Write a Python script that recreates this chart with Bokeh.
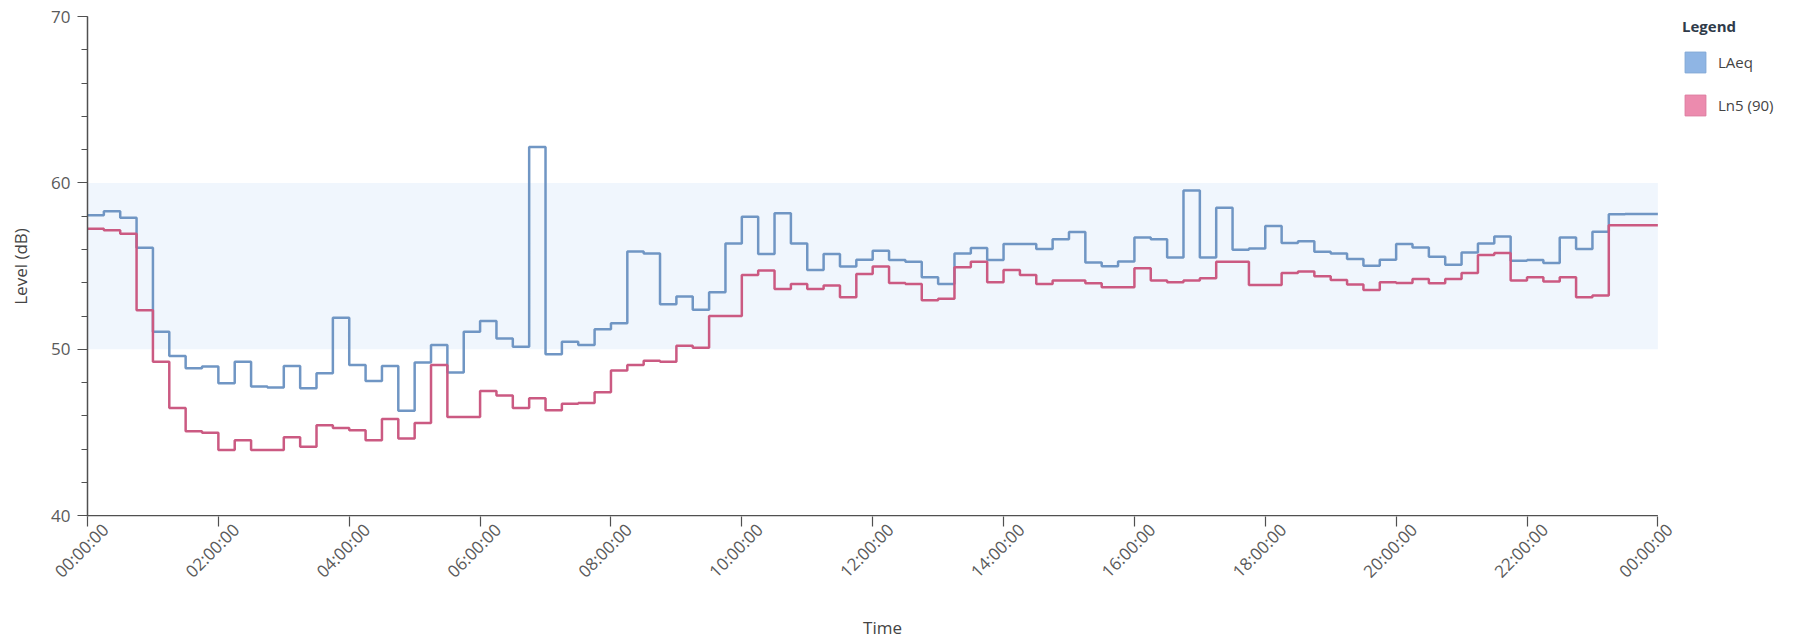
import math
from bokeh.plotting import figure
from bokeh.layouts import row
from bokeh.models import (Range1d, BoxAnnotation, Legend, LegendItem, FixedTicker,
                          SingleIntervalTicker, LinearAxis)
from bokeh.embed import file_html
from bokeh.resources import INLINE

# ---- data (15-minute intervals over one day) ----
laeq = [58.05, 58.3, 57.9, 56.1, 51.05, 49.6, 48.86, 48.96,
        47.96, 49.25, 47.76, 47.7, 49.0, 47.66, 48.56, 51.9,
        49.05, 48.1, 49.0, 46.3, 49.2, 50.25, 48.6, 51.05,
        51.7, 50.65, 50.15, 62.15, 49.7, 50.45, 50.25, 51.2,
        51.56, 55.88, 55.76, 52.7, 53.17, 52.38, 53.43, 56.36,
        57.97, 55.72, 58.17, 56.36, 54.77, 55.72, 54.97, 55.38,
        55.92, 55.36, 55.26, 54.33, 53.93, 55.76, 56.08, 55.36,
        56.32, 56.32, 56.02, 56.62, 57.05, 55.22, 54.99, 55.28,
        56.72, 56.62, 55.52, 59.54, 55.52, 58.51, 55.98, 56.06,
        57.41, 56.38, 56.5, 55.86, 55.76, 55.42, 55.02, 55.38,
        56.32, 56.12, 55.56, 55.08, 55.82, 56.36, 56.78, 55.32,
        55.36, 55.18, 56.72, 56.02, 57.07, 58.11, 58.13, 58.13]

ln5_90 = [57.25, 57.15, 56.95, 52.34, 49.25, 46.47, 45.07, 44.98,
          43.94, 44.54, 43.94, 43.94, 44.72, 44.14, 45.43, 45.27,
          45.13, 44.54, 45.81, 44.64, 45.57, 49.05, 45.93, 45.93,
          47.5, 47.22, 46.47, 47.06, 46.33, 46.73, 46.77, 47.42,
          48.72, 49.05, 49.31, 49.25, 50.21, 50.09, 52.0, 52.0,
          54.47, 54.73, 53.63, 53.93, 53.63, 53.83, 53.13, 54.53,
          54.97, 53.99, 53.93, 52.94, 53.03, 54.93, 55.26, 54.03,
          54.77, 54.47, 53.93, 54.13, 54.13, 53.97, 53.73, 53.73,
          54.87, 54.13, 54.03, 54.13, 54.27, 55.26, 55.26, 53.87,
          53.87, 54.59, 54.67, 54.39, 54.17, 53.89, 53.57, 54.03,
          53.99, 54.23, 53.97, 54.23, 54.59, 55.66, 55.78, 54.13,
          54.33, 54.07, 54.33, 53.13, 53.23, 57.45, 57.45, 57.45]

interval_hours = 0.25
tick_hours = [0, 2, 4, 6, 8, 10, 12, 14, 16, 18, 20, 22, 24]
tick_labels = ["00:00:00", "02:00:00", "04:00:00", "06:00:00", "08:00:00", "10:00:00",
               "12:00:00", "14:00:00", "16:00:00", "18:00:00", "20:00:00", "22:00:00", "00:00:00"]
y_min, y_max = 40, 70
band_low, band_high = 50, 60
series_names = ["LAeq", "Ln5 (90)"]

# step x positions: start of each interval plus end of day
hours = [i * interval_hours for i in range(len(laeq) + 1)]
laeq_ext = laeq + [laeq[-1]]
ln5_ext = ln5_90 + [ln5_90[-1]]
day_start, day_end = hours[0], hours[-1]

FONT = "Open Sans"
AXIS_COLOR = "#505050"
LABEL_SHIFT_H = 0.27   # tick labels sit slightly right of their ticks
FRAME_PAD_H = 0.3      # room right of the last hour so its label fits

p = figure(width=1677, height=641, output_backend="svg", toolbar_location=None,
           x_range=Range1d(day_start, day_end + FRAME_PAD_H),
           y_range=Range1d(y_min - 0.05, y_max), x_axis_location=None,
           min_border_left=87, min_border_right=0, min_border_top=16, min_border_bottom=123)
p.outline_line_color = None
p.xgrid.visible = False
p.ygrid.visible = False
p.background_fill_color = "white"
p.border_fill_color = "white"
p.extra_x_ranges = {"lab": Range1d(day_start - LABEL_SHIFT_H, day_end + FRAME_PAD_H - LABEL_SHIFT_H)}

band = BoxAnnotation(left=day_start, right=day_end, bottom=band_low, top=band_high,
                     fill_color="#F0F6FD", fill_alpha=1.0, line_color=None, level="underlay")
p.add_layout(band)

p.step(hours, laeq_ext, mode="after", line_color="#7096C4", line_width=2.5)
p.step(hours, ln5_ext, mode="after", line_color="#CB5A82", line_width=2.5)

# x axis line, spanning exactly the day
p.segment(x0=[day_start], y0=[y_min], x1=[day_end], y1=[y_min],
          line_color=AXIS_COLOR, line_width=1.5)

# x axis: major ticks invisible (they carry the shifted labels), minor ticks mark the hours
tick_marks = [h - LABEL_SHIFT_H for h in tick_hours]
xl = LinearAxis(x_range_name="lab", ticker=FixedTicker(ticks=tick_hours, minor_ticks=tick_marks))
xl.major_label_overrides = dict(zip(tick_hours, tick_labels))
xl.major_label_orientation = math.pi / 4
xl.axis_line_color = None
xl.major_tick_line_color = None
xl.minor_tick_line_color = AXIS_COLOR
xl.minor_tick_line_width = 1.2
xl.major_tick_out = 8
xl.major_tick_in = 0
xl.minor_tick_out = 10
xl.minor_tick_in = 0
xl.major_label_standoff = 0
xl.major_label_text_font = FONT
xl.major_label_text_font_size = "17px"
xl.major_label_text_color = "#5A5A5A"
p.add_layout(xl, "below")

# x axis title, centred on the day (not on the padded frame)
xt = LinearAxis(ticker=FixedTicker(ticks=[]), bounds=(day_start, day_end))
xt.axis_line_color = None
xt.major_tick_line_color = None
xt.minor_tick_line_color = None
xt.major_tick_out = 0
xt.major_tick_in = 0
xt.minor_tick_out = 0
xt.minor_tick_in = 0
xt.major_label_standoff = 0
xt.axis_label = "Time"
xt.axis_label_standoff = 22
xt.axis_label_text_font = FONT
xt.axis_label_text_font_size = "17px"
xt.axis_label_text_font_style = "normal"
xt.axis_label_text_color = "#444444"
p.add_layout(xt, "below")

# y axis
ya = p.yaxis[0]
ya.ticker = SingleIntervalTicker(interval=10, num_minor_ticks=5)
ya.axis_line_color = AXIS_COLOR
ya.axis_line_width = 1.5
ya.major_tick_line_color = AXIS_COLOR
ya.minor_tick_line_color = AXIS_COLOR
ya.major_tick_in = 0
ya.minor_tick_in = 0
ya.major_tick_out = 10
ya.minor_tick_out = 6
ya.major_label_standoff = 7
ya.major_label_text_font = FONT
ya.major_label_text_font_size = "17px"
ya.major_label_text_color = "#5A5A5A"
ya.axis_label = "Level (dB)"
ya.axis_label_standoff = 16
ya.axis_label_text_font = FONT
ya.axis_label_text_font_size = "17px"
ya.axis_label_text_font_style = "normal"
ya.axis_label_text_color = "#444444"

# ---- legend panel to the right of the chart ----
lg = figure(width=127, height=641, output_backend="svg", toolbar_location=None,
            x_range=Range1d(0, 1), y_range=Range1d(0, 1),
            x_axis_location=None, y_axis_location=None,
            min_border_left=5, min_border_top=16, min_border_right=0, min_border_bottom=0)
lg.outline_line_color = None
lg.xgrid.visible = False
lg.ygrid.visible = False
lg.background_fill_color = "white"
lg.border_fill_color = "white"

nan = float("nan")
sw1 = lg.quad(left=[nan], right=[nan], top=[nan], bottom=[nan],
              fill_color="#8FB5E4", line_color="#7FA6D6")
sw2 = lg.quad(left=[nan], right=[nan], top=[nan], bottom=[nan],
              fill_color="#EC8BAE", line_color="#DD7A9E")

legend = Legend(items=[LegendItem(label=series_names[0], renderers=[sw1]),
                       LegendItem(label=series_names[1], renderers=[sw2])],
                location="top_left", title="Legend")
legend.border_line_color = None
legend.background_fill_alpha = 0
legend.padding = 4
legend.margin = 0
legend.spacing = 17
legend.glyph_width = 26
legend.glyph_height = 26
legend.label_standoff = 10
legend.label_text_font = FONT
legend.label_text_font_size = "15px"
legend.label_text_color = "#444444"
legend.title_text_font = FONT
legend.title_text_font_size = "15px"
legend.title_text_font_style = "bold"
legend.title_text_color = "#2F3B4A"
legend.title_standoff = 13
lg.add_layout(legend, "center")

layout = row(p, lg, spacing=0)
open("out.html", "w").write(file_html(layout, INLINE))
